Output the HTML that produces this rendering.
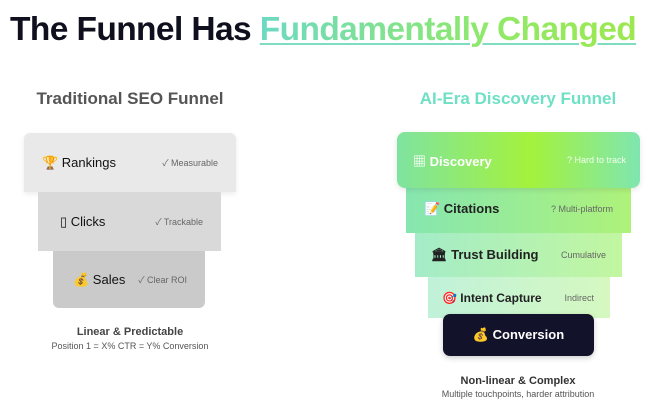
<!DOCTYPE html>
<html><head><style>
body{margin:0;width:652px;height:414px;background:#fff;font-family:"Liberation Sans","Noto Sans CJK SC",sans-serif;position:relative;overflow:hidden}
.a{position:absolute}
h1{position:absolute;left:10px;top:11px;margin:0;font-size:33.5px;font-weight:bold;color:#0f0f1e;letter-spacing:-0.6px;white-space:nowrap}
.g{background:linear-gradient(90deg,#6dd9c3,#8fe96a 60%,#9de84f);-webkit-background-clip:text;color:transparent;text-decoration:underline;text-decoration-color:#7fdcc0;text-decoration-thickness:2px;text-underline-offset:3px}
.box{position:absolute;display:flex;align-items:center;justify-content:space-between;box-sizing:border-box;font-size:13px;color:#111}
.box .r{font-size:9px;color:#666}
.sub{position:absolute;text-align:center;font-size:11px;color:#333}
</style></head><body>
<h1>The Funnel Has <span class="g">Fundamentally Changed</span></h1>
<div class="a" style="left:0;width:260px;top:89px;text-align:center;font-size:17px;font-weight:bold;color:#555">Traditional SEO Funnel</div>
<div class="box" style="left:24px;top:133px;width:212px;height:59px;background:#e9e9e9;border-radius:6px 6px 0 0;padding:0 18px 0 18px;box-shadow:0 2px 6px rgba(0,0,0,.08)"><span>🏆 Rankings</span><span class="r">✓ Measurable</span></div>
<div class="box" style="left:38px;top:192px;width:183px;height:59px;background:#d9d9d9;padding:0 18px 0 22px"><span>▯ Clicks</span><span class="r">✓ Trackable</span></div>
<div class="box" style="left:53px;top:251px;width:152px;height:57px;background:#cacaca;border-radius:0 0 6px 6px;padding:0 18px 0 20px"><span>💰 Sales</span><span class="r">✓ Clear ROI</span></div>
<div class="sub" style="left:0;width:260px;top:326px;font-weight:bold;font-size:11px;color:#444">Linear &amp; Predictable</div>
<div class="sub" style="left:0;width:260px;top:341px;font-size:9px;color:#555">Position 1 = X% CTR = Y% Conversion</div>

<div class="a" style="left:388px;width:260px;top:89px;text-align:center;font-size:17px;font-weight:bold;color:#6ee0c5">AI-Era Discovery Funnel</div>
<div class="box" style="left:397px;top:132px;width:243px;height:56px;background:linear-gradient(90deg,#7fe3a0,#a4f23c 55%,#7fe6b0);border-radius:8px;padding:0 14px 0 16px;color:#fff;font-weight:bold;z-index:2;box-shadow:0 2px 6px rgba(0,0,0,.1)"><span>▦ Discovery</span><span class="r" style="color:#f4fff0;font-weight:normal">? Hard to track</span></div>
<div class="box" style="left:406px;top:185px;width:225px;height:48px;background:linear-gradient(90deg,#86e6b0,#aef27a);padding:0 18px 0 18px;font-weight:bold;color:#222"><span>📝 Citations</span><span class="r" style="font-weight:normal">? Multi-platform</span></div>
<div class="box" style="left:415px;top:233px;width:207px;height:44px;background:linear-gradient(90deg,#a4ecc8,#c2f6a0);padding:0 16px 0 16px;font-weight:bold;color:#222"><span>🏛 Trust Building</span><span class="r" style="font-weight:normal">Cumulative</span></div>
<div class="box" style="left:428px;top:277px;width:182px;height:41px;background:linear-gradient(90deg,#c0f2da,#d6f8c0);padding:0 16px 0 14px;font-weight:bold;color:#222;font-size:12px"><span>🎯 Intent Capture</span><span class="r" style="font-weight:normal">Indirect</span></div>
<div class="box" style="left:443px;top:314px;width:151px;height:42px;background:#12122a;border-radius:7px;justify-content:center;color:#fff;font-weight:bold;z-index:2;box-shadow:0 2px 6px rgba(0,0,0,.2)"><span>💰 Conversion</span></div>
<div class="sub" style="left:388px;width:260px;top:375px;font-weight:bold;color:#333">Non-linear &amp; Complex</div>
<div class="sub" style="left:388px;width:260px;top:389px;font-size:9px;color:#555">Multiple touchpoints, harder attribution</div>
</body></html>
